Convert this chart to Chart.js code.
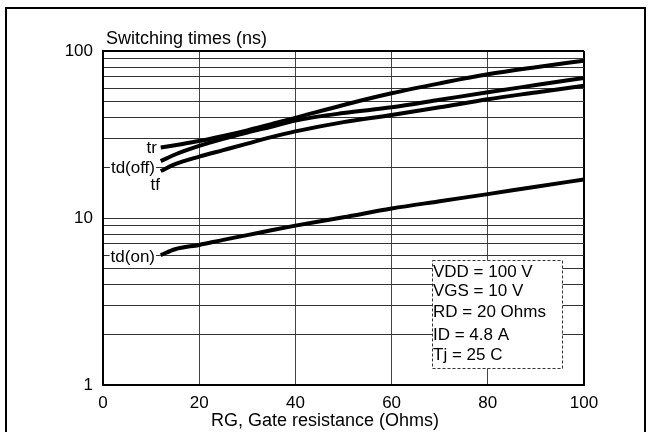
<!DOCTYPE html>
<html><head><meta charset="utf-8">
<script src="https://cdn.jsdelivr.net/npm/chart.js@4/dist/chart.umd.min.js"></script>
<style>
html,body{margin:0;padding:0;background:#fff;overflow:hidden;}
#wrap{position:relative;width:652px;height:432px;overflow:hidden;}
#frame{position:absolute;left:5px;top:7px;width:641px;height:450px;border:2px solid #000;box-sizing:border-box;pointer-events:none;}
canvas{position:absolute;left:0;top:0;}
</style></head><body>
<div id="wrap"><canvas id="c" width="652" height="432"></canvas><div id="frame"></div></div>
<script>
// ---- data ----
const rg = [12, 15, 20, 25, 30, 35, 40, 50, 60, 70, 80, 90, 100];
const tr    = [26.4, 27.3, 28.9, 31.0, 33.5, 36.5, 39.8, 47.5, 55.8, 64.0, 72.5, 80.0, 87.5];
const tdOff = [21.9, 24.0, 27.0, 29.8, 32.5, 35.2, 38.3, 42.5, 46.0, 51.0, 56.6, 62.5, 69.0];
const tf    = [19.1, 21.0, 23.3, 25.5, 27.9, 30.5, 33.0, 37.5, 41.4, 46.0, 51.4, 56.5, 62.0];
const tdOn  = [6.0, 6.5, 6.9, 7.4, 7.9, 8.45, 9.0, 10.1, 11.4, 12.6, 13.9, 15.4, 17.0];
const seriesNames = ['tr', 'td(off)', 'tf', 'td(on)'];
const yTicks = [1,2,3,4,5,6,7,8,9,10,20,30,40,50,60,70,80,90,100];
const yLabels = [1, 10, 100];
const xTicks = [0, 20, 40, 60, 80, 100];
const yTitle = 'Switching times (ns)';
const xTitle = 'RG, Gate resistance (Ohms)';
const conditions = ['VDD = 100 V', 'VGS = 10 V', 'RD = 20 Ohms', 'ID = 4.8 A', 'Tj = 25 C'];

const FAM = '"Liberation Sans", Arial, sans-serif';
const toPts = arr => arr.map((v, i) => ({x: rg[i], y: v}));
const mk = (name, arr) => ({label: name, data: toPts(arr), borderColor: '#000', borderWidth: 4,
  pointRadius: 0, fill: false, cubicInterpolationMode: 'monotone', borderCapStyle: 'butt'});

const textPlugin = {
  id: 'texts',
  afterDraw(chart) {
    const ctx = chart.ctx;
    ctx.save();
    ctx.fillStyle = '#000';
    // y title
    ctx.font = '18px ' + FAM;
    ctx.textAlign = 'left'; ctx.textBaseline = 'alphabetic';
    ctx.fillText(yTitle, 106, 44);
    // x title
    ctx.textAlign = 'center'; ctx.textBaseline = 'middle';
    ctx.fillText(xTitle, 325, 421);
    // curve labels (white background)
    ctx.font = '17px ' + FAM;
    const labs = [
      {t: seriesNames[0], x: 157, y: 148},
      {t: seriesNames[1], x: 155, y: 168},
      {t: seriesNames[2], x: 160, y: 185},
      {t: seriesNames[3], x: 155, y: 257}
    ];
    ctx.textAlign = 'right'; ctx.textBaseline = 'middle';
    labs.forEach(l => {
      const w = ctx.measureText(l.t).width;
      ctx.fillStyle = '#fff';
      ctx.fillRect(l.x - w - 1, l.y - 9, w + 2, 18);
      ctx.fillStyle = '#000';
      ctx.fillText(l.t, l.x, l.y);
    });
    // conditions box
    const bx = 432.5, by = 260.5, bw = 130, bh = 108;
    ctx.fillStyle = '#fff';
    ctx.fillRect(bx, by, bw, bh);
    ctx.setLineDash([3, 2]);
    ctx.strokeStyle = '#333'; ctx.lineWidth = 1;
    ctx.strokeRect(bx, by, bw, bh);
    ctx.setLineDash([]);
    ctx.fillStyle = '#000';
    ctx.textAlign = 'left';
    const ys = [272, 291, 312, 335, 355];
    conditions.forEach((c, i) => ctx.fillText(c, 433, ys[i]));
    ctx.restore();
  }
};

new Chart(document.getElementById('c'), {
  type: 'line',
  data: { datasets: [mk(seriesNames[0], tr), mk(seriesNames[1], tdOff), mk(seriesNames[2], tf), mk(seriesNames[3], tdOn)] },
  options: {
    responsive: false, animation: false, devicePixelRatio: 1,
    layout: { padding: { left: 0, top: 51, right: 68, bottom: 0 } },
    plugins: { legend: { display: false }, tooltip: { enabled: false } },
    scales: {
      x: {
        type: 'linear', min: 0, max: 100,
        afterBuildTicks: s => { s.ticks = xTicks.map(v => ({value: v})); },
        ticks: { autoSkip: false, padding: 8, color: '#000', font: { size: 17, family: FAM }, maxRotation: 0 },
        grid: { drawTicks: false,
          color: c => (c.tick && c.tick.value === 100) ? '#000' : '#444',
          lineWidth: c => (c.tick && c.tick.value === 100) ? 2 : 1 },
        border: { display: true, color: '#000', width: 2 },
        afterFit: s => { s.height = 47; }
      },
      y: {
        type: 'logarithmic', min: 1, max: 100,
        afterBuildTicks: s => { s.ticks = yTicks.map(v => ({value: v})); },
        ticks: { autoSkip: false, padding: 10, color: '#000', font: { size: 17, family: FAM },
          callback: v => yLabels.includes(v) ? String(v) : '' },
        grid: { drawTicks: false,
          color: c => (c.tick && c.tick.value === 100) ? '#000' : '#333',
          lineWidth: c => (c.tick && c.tick.value === 100) ? 2 : 1 },
        border: { display: true, color: '#000', width: 2 },
        afterFit: s => { s.width = 103; }
      }
    }
  },
  plugins: [textPlugin]
});
</script>
</body></html>
